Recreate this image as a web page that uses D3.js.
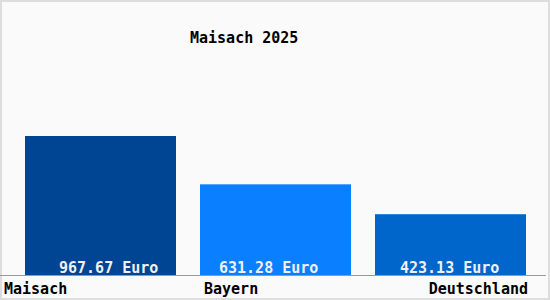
<!DOCTYPE html>
<html>
<head>
<meta charset="utf-8">
<script src="https://cdn.jsdelivr.net/npm/d3@7"></script>
<style>
  body { margin: 0; background: #fff; }
  text { font-family: "DejaVu Sans Mono", monospace; font-size: 15px; font-weight: bold; }
</style>
</head>
<body>
<div id="chart"></div>
<script>
"use strict";

// data
var title = "Maisach 2025";
var regions = ["Maisach", "Bayern", "Deutschland"];
var values = [967.67, 631.28, 423.13];
var valueLabels = ["967.67 Euro", "631.28 Euro", "423.13 Euro"];
var colors = ["#004494", "#0a7fff", "#0066cc"];

// where each text sits relative to its bar
var valueOffsets = [34, 19, 25];
var nameOffsets = [-21, 4, 2];
var nameAnchors = ["start", "start", "end"];

var width = 550, height = 300;

var svg = d3.select("#chart").append("svg")
  .attr("width", width)
  .attr("height", height);

// background + frame
svg.append("rect")
  .attr("x", 1)
  .attr("y", 1)
  .attr("width", width - 2)
  .attr("height", height - 2)
  .attr("fill", "#fafafa")
  .attr("stroke", "#dddddd")
  .attr("stroke-width", 2);

// bands 25-176, 200-351, 375-526
var x = d3.scaleBand()
  .domain(regions)
  .range([1, 550])
  .paddingInner(24 / 175)
  .paddingOuter(24 / 175);

var y = d3.scaleLinear()
  .domain([0, d3.max(values)])
  .range([275, 136]);

svg.append("text")
  .attr("x", 190)
  .attr("y", 43)
  .attr("fill", "#000")
  .text(title);

var bars = svg.selectAll(".bar")
  .data(regions)
  .enter().append("g")
  .attr("class", "bar");

bars.append("rect")
  .attr("x", function(d) { return x(d); })
  .attr("y", function(d, i) { return y(values[i]); })
  .attr("width", x.bandwidth())
  .attr("height", function(d, i) { return y(0) - y(values[i]); })
  .attr("fill", function(d, i) { return colors[i]; });

bars.append("text")
  .attr("x", function(d, i) { return x(d) + valueOffsets[i]; })
  .attr("y", 273)
  .attr("fill", "#f0f0f0")
  .text(function(d, i) { return valueLabels[i]; });

// baseline
svg.append("line")
  .attr("x1", 0)
  .attr("x2", 546)
  .attr("y1", y(0) + 0.5)
  .attr("y2", y(0) + 0.5)
  .attr("stroke", "#999999")
  .attr("stroke-width", 1);

bars.append("text")
  .attr("x", function(d, i) {
    return nameAnchors[i] === "end" ? x(d) + x.bandwidth() + nameOffsets[i] : x(d) + nameOffsets[i];
  })
  .attr("y", 294)
  .attr("text-anchor", function(d, i) { return nameAnchors[i]; })
  .attr("fill", "#000")
  .text(function(d) { return d; });
</script>
</body>
</html>
